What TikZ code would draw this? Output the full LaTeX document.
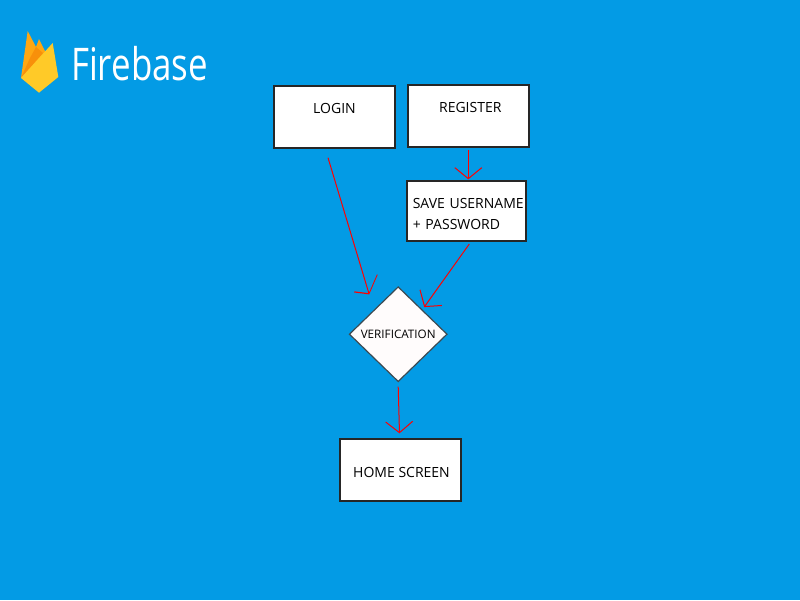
\documentclass[tikz,border=0pt]{standalone}
\usepackage{fontspec}
\setmainfont{Open Sans}
\usetikzlibrary{arrows.meta,shapes.geometric}
\definecolor{skyblue}{HTML}{039BE5}
\definecolor{edgegrey}{HTML}{3C4A52}
\definecolor{flameleft}{HTML}{FFA712}
\definecolor{flamemid}{HTML}{F8900A}
\definecolor{flamefront}{HTML}{FFCA28}
\begin{document}
\begin{tikzpicture}[x=1pt,y=-1pt]

    \tikzset{
      screen/.style={
        draw=black!85,
        fill=white,
        line width=1.4pt,
        inner sep=0pt,
        minimum width=121pt,
        minimum height=62pt,
        font=\fontsize{14}{21}\selectfont,
      },
      check/.style={
        draw=edgegrey,
        fill=white!99!red,
        line width=1.2pt,
        diamond,
        aspect=1,
        inner sep=0pt,
        minimum width=98pt,
        minimum height=95pt,
        font=\fontsize{11.7}{12}\selectfont,
      },
      flow/.style={
        draw=red,
        line width=1pt,
        -{Straight Barb[length=11pt,width=27pt,slant=#1]},
      },
      flow/.default=0,
    }
    \fill[skyblue] (0,0) rectangle (800,600);
    % logo
    \fill[flameleft] (21,78) -- (27.7,31) -- (36,47) -- (39,39) -- (46,53) -- (30,72) -- cycle;
    \fill[flamemid] (21,78) -- (30,58) -- (36,47) -- (43,53) -- cycle;
    \fill[flamefront] (21,78) -- (52.7,43) -- (58.3,77) -- (39,92.7) -- cycle;
    \node[text=white,font=\fontsize{45}{45}\selectfont,inner sep=0pt,anchor=base west,xscale=0.775,transform shape] (brand) at (71,80) {Firebase};

    \node[screen,text height=9pt,text depth=17pt] (login) at (334.5,117) {LOGIN};
    \node[screen,text height=9pt,text depth=17pt] (register) at (468.3,116) {\hspace*{4pt}REGISTER};
    \node[screen,minimum width=119pt,minimum height=60pt,align=left,text width=116pt] (save) at (466.3,211)
      {\rule{0pt}{17pt}\hspace*{4.5pt}SAVE USERNAME\\\hspace*{4.5pt}+ PASSWORD};
    \node[check] (verify) at (398.2,334.2) {VERIFICATION};
    \node[screen,text height=14pt,text depth=0pt] (home) at (400.5,470) {\hspace*{2pt}HOME SCREEN};

    \draw[flow] ([yshift=-2pt]register.south) -- ([xshift=2pt,yshift=1pt]save.north);
    \draw[flow=-0.37] ([xshift=-6.5pt,yshift=-9pt]login.south) -- ([xshift=-29pt,yshift=-8.3pt]verify.north);
    \draw[flow] ([xshift=3pt,yshift=-2.3pt]save.south) -- ([xshift=26pt,yshift=-21pt]verify.north);
    \draw[flow] ([yshift=-4.3pt]verify.south) -- ([xshift=-1pt,yshift=5pt]home.north);

\end{tikzpicture}
\end{document}
